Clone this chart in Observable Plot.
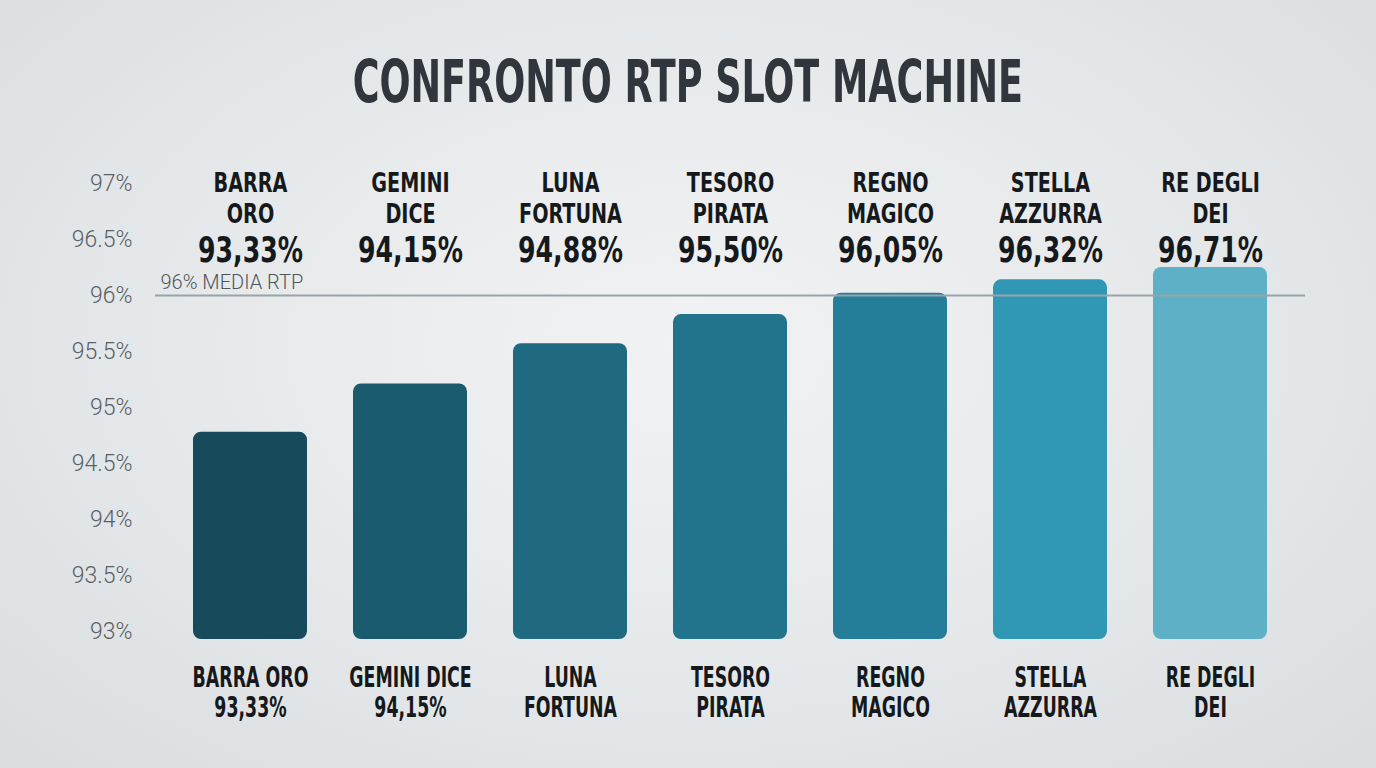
<!DOCTYPE html>
<html><head><meta charset="utf-8">
<script src="https://cdn.jsdelivr.net/npm/d3@7"></script>
<script src="https://cdn.jsdelivr.net/npm/@observablehq/plot@0.6"></script>
<style>
html,body{margin:0;padding:0;}
body{width:1376px;height:768px;overflow:hidden;background:radial-gradient(ellipse at 50% 45%, #f1f2f3 0%, #e4e7e9 60%, #d9dddf 100%);font-family:"DejaVu Sans Condensed","DejaVu Sans",sans-serif;}
#title{height:130px;margin:0;text-align:center;font-size:58px;font-weight:bold;color:#30363b;line-height:58px;box-sizing:border-box;}
#title span{display:inline-block;margin-top:53px;transform:scaleX(0.70);transform-origin:50% 50%;white-space:nowrap;}
#chart svg{display:block;}
</style></head><body>
<div id="title"><span>CONFRONTO RTP SLOT MACHINE</span></div>
<div id="chart"></div>
<script>
const slots = ["BARRA ORO","GEMINI DICE","LUNA FORTUNA","TESORO PIRATA","REGNO MAGICO","STELLA AZZURRA","RE DEGLI DEI"];
const topNames = ["BARRA\nORO","GEMINI\nDICE","LUNA\nFORTUNA","TESORO\nPIRATA","REGNO\nMAGICO","STELLA\nAZZURRA","RE DEGLI\nDEI"];
const rtpLabels = ["93,33%","94,15%","94,88%","95,50%","96,05%","96,32%","96,71%"];
const bottomLabels = ["BARRA ORO\n93,33%","GEMINI DICE\n94,15%","LUNA\nFORTUNA","TESORO\nPIRATA","REGNO\nMAGICO","STELLA\nAZZURRA","RE DEGLI\nDEI"];
const barHeights = [94.78, 95.21, 95.57, 95.83, 96.02, 96.14, 96.25];
const barColors = ["#174b5b","#1b5b6e","#1f6a80","#22748c","#247e99","#3097b5","#5db0c6"];
const yTicks = [93, 93.5, 94, 94.5, 95, 95.5, 96, 96.5, 97];
const mediaRTP = 96;
const mediaLabel = "96% MEDIA RTP";

const data = slots.map((s, i) => ({slot: s, top: topNames[i], rtp: rtpLabels[i], bottom: bottomLabels[i], h: barHeights[i], color: barColors[i]}));
const FONT = '"DejaVu Sans Condensed","DejaVu Sans",sans-serif';

const chart = Plot.plot({
  width: 1376,
  height: 638,
  marginLeft: 146,
  marginRight: 62,
  marginTop: 53,
  marginBottom: 137,
  style: {background: "transparent", fontFamily: FONT, overflow: "visible"},
  x: {domain: slots, padding: 0.2875, axis: null},
  y: {domain: [93, 97], axis: null},
  marks: [
    Plot.axisY({ticks: yTicks, label: null, tickSize: 0, tickPadding: 14, tickFormat: d => d + "%", fontSize: 23, fill: "#5a5f63", fontFamily: "Roboto, sans-serif", fontWeight: 300}),
    Plot.barY(data, {x: "slot", y1: 93, y2: "h", fill: "color", rx: 8, insetBottom: -8, style: {filter: "drop-shadow(0px 4px 4px rgba(0,0,0,0.18))"}}),
    Plot.ruleY([mediaRTP], {stroke: "#9aa3a8", strokeWidth: 2, insetLeft: 9, insetRight: 9}),
    Plot.text([mediaLabel], {frameAnchor: "left", y: () => mediaRTP, dx: 14, dy: -13, fontSize: 20, fill: "#4f5559", textAnchor: "start", fontFamily: "Roboto, sans-serif", fontWeight: 300}),
    Plot.text(data, {x: "slot", text: "top", className: "cond1", frameAnchor: "top", lineAnchor: "top", dy: -13, lineHeight: 1.14, fontSize: 27, fontWeight: "bold", fill: "#16191b"}),
    Plot.text(data, {x: "slot", text: "rtp", className: "cond2", frameAnchor: "top", lineAnchor: "middle", dy: 67, fontSize: 35, fontWeight: "bold", fill: "#16191b"}),
    Plot.text(data, {x: "slot", text: "bottom", className: "cond3", frameAnchor: "bottom", lineAnchor: "top", dy: 34, lineHeight: 1.08, fontSize: 28, fontWeight: "bold", fill: "#16191b"})
  ]
});
function squeeze(sel, s) {
  d3.select(chart).selectAll(sel).each(function() {
    const t = this.getAttribute("transform");
    if (t) this.setAttribute("transform", t + ` scale(${s},1)`);
    else {
      const x = +this.getAttribute("x") || 0;
      this.setAttribute("transform", `translate(${x},0) scale(${s},1) translate(${-x},0)`);
    }
  });
}
squeeze(".cond1 text", 0.79);
squeeze(".cond2 text", 0.8);
squeeze(".cond3 text", 0.69);
document.getElementById("chart").appendChild(chart);
</script>
</body></html>
